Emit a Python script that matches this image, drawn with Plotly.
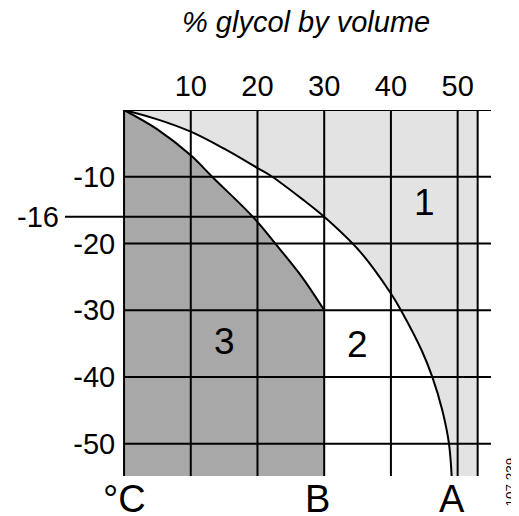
import plotly.graph_objects as go

# ---- data ----
x_ticks = [10, 20, 30, 40, 50]
y_ticks = [-10, -20, -30, -40, -50]
y_tick_text = ["-10", "-20", "-30", "-40", "-50"]

# curve A
curve_a_x = [0, 5, 10, 15, 20, 22.2, 26.9, 30, 35.4, 40, 41.5, 44.6, 46.2, 47.7, 48.7, 49.1]
curve_a_y = [0, -1.4, -3.25, -5.8, -8.7, -10, -13.5, -16, -21.25, -27.5, -30, -36, -40, -45, -50, -54.85]
# curve B
curve_b_x = [0, 5, 10, 13.2, 19.3, 22.65, 26.65, 30]
curve_b_y = [0, -2.9, -6.8, -10, -16, -20, -25, -30]

x_grid = [0, 10, 20, 30, 40, 50, 53]
y_grid = [0, -10, -20, -30, -40, -50]
x_max = 55
x_right = 53
y_min = -54.85
mark_y = -16          # highlighted temperature
mark_x_left = -8.85
mark_x_right = 30
x_min = -9

region_labels = ["1", "2", "3"]
region_x = [45, 35, 15]
region_y = [-13.9, -35.1, -34.7]

bottom_labels = ["°C", "B", "A"]
bottom_x = [0, 29.0, 49.1]

LIGHT = "#e3e3e3"
DARK = "#a8a8a8"
FONT = "Liberation Sans, Arial, Helvetica, sans-serif"
SPL = dict(shape="spline", smoothing=1.0)

fig = go.Figure()

# light background of region 1 (whole band up to x=53); the rest is painted over
fig.add_shape(type="rect", xref="x", yref="y", x0=0, x1=x_right, y0=y_min, y1=0,
              fillcolor=LIGHT, line=dict(width=0), layer="below")

# white: everything left of curve A
fig.add_trace(go.Scatter(x=curve_a_x, y=curve_a_y, mode="lines", fill="tozerox",
                         fillcolor="white", line=dict(width=0, **SPL), hoverinfo="skip"))
# dark: left of curve B
fig.add_trace(go.Scatter(x=curve_b_x, y=curve_b_y, mode="lines", fill="tozerox",
                         fillcolor=DARK, line=dict(width=0, **SPL), hoverinfo="skip"))
# dark: below curve B's end down to the bottom
bx_end, by_end = curve_b_x[-1], curve_b_y[-1]
fig.add_trace(go.Scatter(x=[0, bx_end, bx_end, 0, 0], y=[by_end, by_end, y_min, y_min, by_end],
                         mode="lines", fill="toself", fillcolor=DARK, line=dict(width=0),
                         hoverinfo="skip"))

# grid lines
gx, gy = [], []
for xv in x_grid:
    gx += [xv, xv, None]
    gy += [0, y_min, None]
for yv in y_grid:
    gx += [0, x_max, None]
    gy += [yv, yv, None]
gx += [mark_x_left, mark_x_right, None]
gy += [mark_y, mark_y, None]
fig.add_trace(go.Scatter(x=gx, y=gy, mode="lines", line=dict(color="black", width=2),
                         hoverinfo="skip"))

# curves
fig.add_trace(go.Scatter(x=curve_a_x, y=curve_a_y, mode="lines",
                         line=dict(color="black", width=2, **SPL), hoverinfo="skip"))
fig.add_trace(go.Scatter(x=curve_b_x, y=curve_b_y, mode="lines",
                         line=dict(color="black", width=2, **SPL), hoverinfo="skip"))

annotations = []
for t, xv, yv in zip(region_labels, region_x, region_y):
    annotations.append(dict(x=xv, y=yv, text=t, showarrow=False,
                            font=dict(size=37, family=FONT, color="black")))
for t, xv in zip(bottom_labels, bottom_x):
    annotations.append(dict(x=xv, y=0, yref="paper", yanchor="top", yshift=0, text=t,
                            showarrow=False, font=dict(size=38, family=FONT, color="black")))
annotations.append(dict(x=mark_x_left, y=mark_y, xanchor="right", xshift=-4, text="-16",
                        showarrow=False, font=dict(size=29, family=FONT, color="black")))
annotations.append(dict(x=27.3, y=1, yref="paper", yanchor="middle", yshift=88,
                        text="<i>% glycol by volume</i>", showarrow=False,
                        font=dict(size=29, family=FONT, color="black")))
annotations.append(dict(x=1, xref="paper", y=0, yref="paper", xanchor="center",
                        yanchor="middle", xshift=18.5, yshift=-6, text="107 239",
                        textangle=-90, showarrow=False,
                        font=dict(size=13.5, family=FONT, color="black")))

fig.update_layout(
    width=511, height=508,
    margin=dict(l=56, r=28, t=102, b=40),
    paper_bgcolor="white", plot_bgcolor="white",
    showlegend=False,
    font=dict(family=FONT, color="black"),
    xaxis=dict(range=[x_min, x_max], side="top", tickvals=x_ticks,
               showgrid=False, zeroline=False, showline=False,
               ticks="outside", ticklen=1, tickcolor="rgba(0,0,0,0)",
               tickfont=dict(size=29, family=FONT, color="black")),
    yaxis=dict(range=[y_min, 0], tickvals=y_ticks, ticktext=y_tick_text,
               anchor="free", position=(0 - x_min) / (x_max - x_min),
               showgrid=False, zeroline=False, showline=False,
               ticks="outside", ticklen=3, tickcolor="rgba(0,0,0,0)",
               tickfont=dict(size=29, family=FONT, color="black")),
    annotations=annotations,
)

fig.write_html("out.html")
